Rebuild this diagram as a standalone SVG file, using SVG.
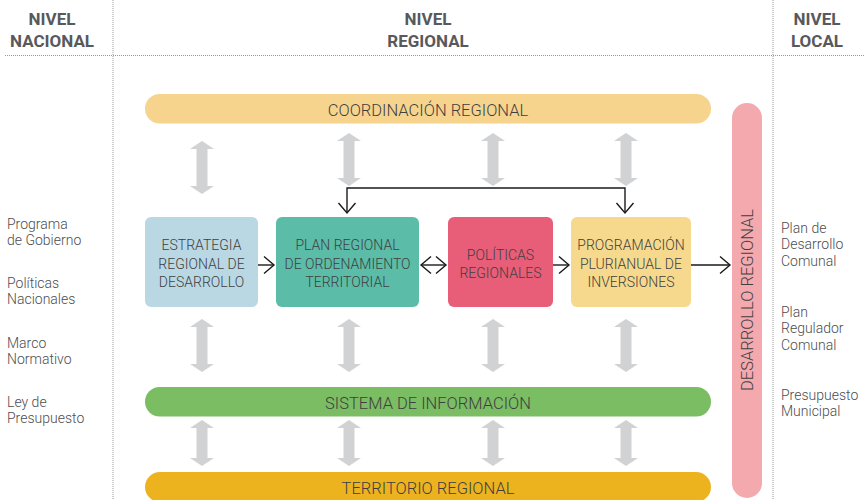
<svg xmlns="http://www.w3.org/2000/svg" width="865" height="500" viewBox="0 0 865 500">
<defs>
<style>
.hdr{font-family:Roboto,"Liberation Sans",sans-serif;font-weight:700;font-size:17px;fill:#58595b;text-anchor:middle}
.side{font-family:Roboto,"Liberation Sans",sans-serif;font-weight:300;font-size:14px;fill:#4d4d4f}
.box{font-family:Roboto,"Liberation Sans",sans-serif;font-weight:300;font-size:14px;fill:#3f3f41;text-anchor:middle}
.bar{font-family:Roboto,"Liberation Sans",sans-serif;font-weight:300;font-size:16.5px;fill:#3f3f41;text-anchor:middle}
.dot{stroke:#9a9a9a;stroke-width:1;stroke-dasharray:1 1;fill:none}
.gray{fill:#d1d2d4}
.conn{stroke:#1a1a1a;stroke-width:1.4;fill:none}
</style>
<marker id="ah" markerUnits="userSpaceOnUse" markerWidth="14" markerHeight="22" viewBox="-12 -10 14 20" refX="0" refY="0" orient="auto-start-reverse">
<path d="M-10,-8.5 L0,0 L-10,8.5" fill="none" stroke="#1a1a1a" stroke-width="1.4"/>
</marker>
<polygon id="garrow" points="0,0 12,8 5.5,8 5.5,45 12,45 0,53 -12,45 -5.5,45 -5.5,8 -12,8"/>
<polygon id="garrowS" points="0,0 12,8 5.5,8 5.5,38 12,38 0,46 -12,38 -5.5,38 -5.5,8 -12,8"/>
</defs>
<rect width="865" height="500" fill="#ffffff"/>

<g id="grid">
<line class="dot" x1="113" y1="0" x2="113" y2="500"/>
<line class="dot" x1="773" y1="0" x2="773" y2="500"/>
<line class="dot" x1="5" y1="55.5" x2="865" y2="55.5"/>
</g>

<g id="headers">
<text class="hdr" x="52" y="25">NIVEL</text>
<text class="hdr" x="52" y="47">NACIONAL</text>
<text class="hdr" x="428" y="25">NIVEL</text>
<text class="hdr" x="428" y="47">REGIONAL</text>
<text class="hdr" x="817" y="25">NIVEL</text>
<text class="hdr" x="817" y="47">LOCAL</text>
</g>

<g id="nacional">
<text class="side" x="7" y="229">Programa</text>
<text class="side" x="7" y="245">de Gobierno</text>
<text class="side" x="7" y="288">Políticas</text>
<text class="side" x="7" y="304">Nacionales</text>
<text class="side" x="7" y="348">Marco</text>
<text class="side" x="7" y="364">Normativo</text>
<text class="side" x="7" y="407">Ley de</text>
<text class="side" x="7" y="423">Presupuesto</text>
</g>

<g id="local">
<text class="side" x="781" y="233">Plan de</text>
<text class="side" x="781" y="249">Desarrollo</text>
<text class="side" x="781" y="266">Comunal</text>
<text class="side" x="781" y="317">Plan</text>
<text class="side" x="781" y="333">Regulador</text>
<text class="side" x="781" y="350">Comunal</text>
<text class="side" x="781" y="400">Presupuesto</text>
<text class="side" x="781" y="416">Municipal</text>
</g>

<g id="coordinacion">
<rect x="145" y="94" width="566" height="29.5" rx="14.75" fill="#f6d48e"/>
<text class="bar" x="428" y="116">COORDINACIÓN REGIONAL</text>
</g>

<g id="desarrollo">
<rect x="732" y="103" width="30" height="395" rx="15" fill="#f4a9ae"/>
<text class="bar" transform="translate(753,300) rotate(-90)" x="0" y="0">DESARROLLO REGIONAL</text>
</g>

<g id="estrategia">
<rect x="145" y="217" width="113" height="90" rx="6" fill="#b9d8e4"/>
<text class="box" x="201.5" y="250">ESTRATEGIA</text>
<text class="box" x="201.5" y="268.5">REGIONAL DE</text>
<text class="box" x="201.5" y="287">DESARROLLO</text>
</g>

<g id="plan">
<rect x="276" y="217" width="143" height="90" rx="6" fill="#5bbca8"/>
<text class="box" x="347.5" y="250">PLAN REGIONAL</text>
<text class="box" x="347.5" y="268.5">DE ORDENAMIENTO</text>
<text class="box" x="347.5" y="287">TERRITORIAL</text>
</g>

<g id="politicas">
<rect x="448" y="217" width="105" height="90" rx="6" fill="#e85d78"/>
<text class="box" x="500.5" y="259.5">POLÍTICAS</text>
<text class="box" x="500.5" y="278">REGIONALES</text>
</g>

<g id="programacion">
<rect x="571" y="217" width="120" height="90" rx="6" fill="#f6d98c"/>
<text class="box" x="631" y="250">PROGRAMACIÓN</text>
<text class="box" x="631" y="268.5">PLURIANUAL DE</text>
<text class="box" x="631" y="287">INVERSIONES</text>
</g>

<g id="sistema">
<rect x="145" y="387" width="566" height="29.5" rx="14.75" fill="#7bbd63"/>
<text class="bar" x="428" y="409">SISTEMA DE INFORMACIÓN</text>
</g>

<g id="territorio">
<rect x="145" y="472" width="566" height="30" rx="15" fill="#ecb31f"/>
<text class="bar" x="428" y="494">TERRITORIO REGIONAL</text>
</g>

<g id="connectors">
<use href="#garrow" class="gray" x="202" y="141"/>
<use href="#garrow" class="gray" x="349" y="133"/>
<use href="#garrow" class="gray" x="493" y="133"/>
<use href="#garrow" class="gray" x="626" y="133"/>
<use href="#garrow" class="gray" x="202" y="319"/>
<use href="#garrow" class="gray" x="349" y="319"/>
<use href="#garrow" class="gray" x="493" y="319"/>
<use href="#garrow" class="gray" x="626" y="319"/>
<use href="#garrowS" class="gray" x="202" y="420"/>
<use href="#garrowS" class="gray" x="349" y="420"/>
<use href="#garrowS" class="gray" x="493" y="420"/>
<use href="#garrowS" class="gray" x="626" y="420"/>

<line class="conn" x1="258" y1="265" x2="274" y2="265" marker-end="url(#ah)"/>
<line class="conn" x1="421" y1="265" x2="446" y2="265" marker-start="url(#ah)" marker-end="url(#ah)"/>
<line class="conn" x1="553" y1="265" x2="569" y2="265" marker-end="url(#ah)"/>
<line class="conn" x1="691" y1="265" x2="730" y2="265" marker-end="url(#ah)"/>
<path class="conn" d="M347,213 L347,188 L625,188 L625,213" marker-start="url(#ah)" marker-end="url(#ah)"/>
</g>
</svg>
